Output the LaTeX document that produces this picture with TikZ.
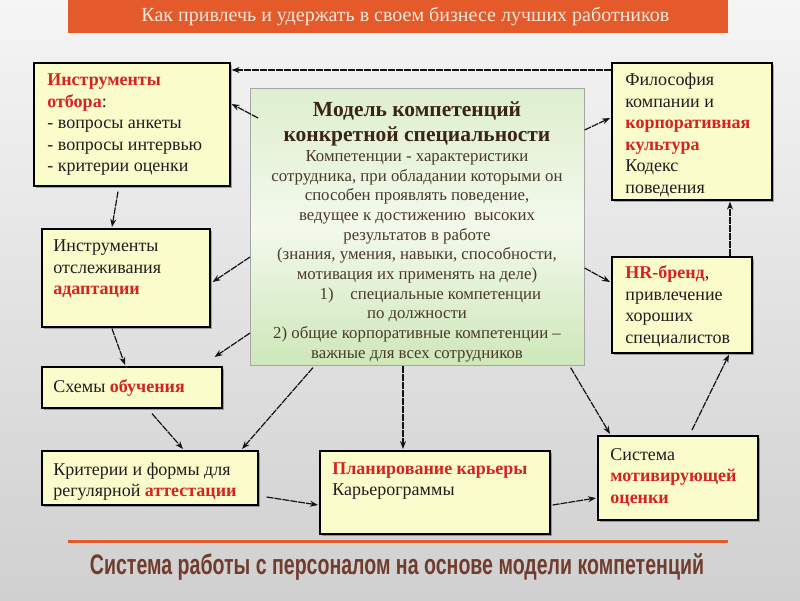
\documentclass[tikz,border=0pt]{standalone}
\usepackage{fontspec}
\usepackage{graphicx}
\setmainfont{Liberation Serif}
\newfontfamily\footfont{Liberation Sans}
\usetikzlibrary{arrows.meta,calc,shadows}

\definecolor{bgtop}{RGB}{245,245,245}
\definecolor{bgbottom}{RGB}{208,208,208}
\definecolor{barorange}{RGB}{228,90,42}
\definecolor{bartext}{RGB}{252,232,218}
\definecolor{boxyellow}{RGB}{250,252,204}
\definecolor{hlred}{RGB}{214,34,34}
\definecolor{textdark}{RGB}{30,30,30}
\definecolor{modeltop}{RGB}{222,239,206}
\definecolor{modelmid}{RGB}{243,249,236}
\definecolor{modelbottom}{RGB}{206,231,186}
\definecolor{modeltitle}{RGB}{58,36,20}
\definecolor{modeltext}{RGB}{72,58,40}
\definecolor{footbrown}{RGB}{112,60,46}
\definecolor{linkdark}{RGB}{20,20,20}

\newcommand{\redb}[1]{\textcolor{hlred}{\textbf{#1}}}

\tikzset{every picture/.style={line width=0.75pt}}
\tikzset{
  box/.style={draw=black, line width=1.6pt, fill=boxyellow, anchor=north west, inner sep=0pt,
    drop shadow={shadow xshift=2pt, shadow yshift=-2pt, opacity=.3, fill=black}},
  boxtext/.style={anchor=north west, inner sep=0pt, align=left, text=textdark,
    font=\fontsize{18}{21.5}\selectfont},
  link/.style={draw=linkdark, line width=1.2pt, dash pattern=on 7pt off 1pt,
    -{Stealth[length=8pt,width=6pt]}},
}

\begin{document}
\begin{tikzpicture}[x=1pt,y=1pt,yscale=-1,xscale=1]
%Background
\shade[top color=bgtop, bottom color=bgbottom] (0,0) rectangle (800,600);
\useasboundingbox (0,0) rectangle (800,600);

%Shape: Title bar
\node[fill=barorange, anchor=north west, minimum width=660, minimum height=33, inner sep=0pt,
  text=bartext, font=\fontsize{20}{20}\selectfont] (title) at (68,0)
  {\hspace*{14pt}Как привлечь и удержать в своем бизнесе лучших работников};

%Shape: Boxes
\node[box, minimum width=196, minimum height=123] (otbor) at (33,62) {};
\node[box, minimum width=160, minimum height=137] (filos) at (611,62) {};
\node[anchor=north west, draw=gray!70, line width=0.6pt, inner sep=0pt,
  minimum width=334, minimum height=277,
  top color=modeltop, bottom color=modelbottom, middle color=modelmid] (model) at (250,88) {};
\node[box, minimum width=168, minimum height=98] (adapt) at (41,228) {};
\node[box, minimum width=140, minimum height=96] (hr) at (611,256) {};
\node[box, minimum width=180, minimum height=41] (obuch) at (41,366) {};
\node[box, minimum width=216, minimum height=54] (krit) at (41,450) {};
\node[box, minimum width=230, minimum height=83] (plan) at (319,450) {};
\node[box, minimum width=160, minimum height=84] (motiv) at (597,435) {};

% Text Node
\node[boxtext] (otbortext) at (47,73.5) {\redb{Инструменты}\\\redb{отбора}:\\- вопросы анкеты\\- вопросы интервью\\- критерии оценки};
% Text Node
\node[boxtext] (filostext) at (625,73) {Философия\\компании и\\\redb{корпоративная}\\\redb{культура}\\Кодекс\\поведения};
% Text Node
\node[boxtext] (adapttext) at (53,239.5) {Инструменты\\отслеживания\\\redb{адаптации}};
% Text Node
\node[boxtext] (hrtext) at (625,265.5) {\redb{HR-бренд},\\привлечение\\хороших\\специалистов};
% Text Node
\node[boxtext] (obuchtext) at (53,379.5) {Схемы \redb{обучения}};
% Text Node
\node[boxtext] (krittext) at (53,462.5) {Критерии и формы для\\регулярной \redb{аттестации}};
% Text Node
\node[boxtext] (plantext) at (332,462) {\redb{Планирование карьеры}\\Карьерограммы};
% Text Node
\node[boxtext] (motivtext) at (610,448) {Система\\\redb{мотивирующей}\\\redb{оценки}};
% Text Node
\node[anchor=north, inner sep=0pt, align=center, text=modeltitle,
  font=\fontsize{21.5}{25}\selectfont\bfseries] (modeltitle) at (417,101)
  {Модель компетенций\\конкретной специальности};
% Text Node
\node[anchor=north, inner sep=0pt, align=center, text=modeltext,
  font=\fontsize{16.8}{19.7}\selectfont] (modelbody) at (417,150)
  {Компетенции - характеристики\\
   сотрудника, при обладании которыми он\\
   способен проявлять поведение,\\
   ведущее к достижению\ \ высоких\\
   результатов в работе\\
   (знания, умения, навыки, способности,\\
   мотивация их применять на деле)\\
   \hspace*{1.6em}1)\hspace{1em}специальные компетенции\\
   по должности\\
   2) общие корпоративные компетенции –\\
   важные для всех сотрудников};

%Connectors
\draw[link] ($(filos.north west)+(0,8)$) -- ($(otbor.north east)+(1,8)$);
\draw[link] ($(model.north west)+(8,30)$) -- ($(otbor.north east)+(1,42)$);
\draw[link] ($(model.north east)+(0,42)$) -- ($(filos.north west)+(-1,56)$);
\draw[link] ($(otbor.south west)+(85,5)$) -- ($(adapt.north west)+(71,-1)$);
\draw[link] ($(model.north west)+(0,169)$) -- ($(adapt.north east)+(2,54)$);
\draw[link] ($(model.north west)+(0,245)$) -- ($(obuch.north east)+(-8,-9)$);
\draw[link] ($(adapt.south west)+(71,1)$) -- ($(obuch.north west)+(84,-1)$);
\draw[link] ($(obuch.south west)+(111,5)$) -- ($(krit.north west)+(142,-1)$);
\draw[link] ($(model.south west)+(63,2)$) -- ($(krit.north west)+(201,-1)$);
\draw[link] ($(model.south west)+(153,0)$) -- ($(plan.north west)+(84,-1)$);
\draw[link] ($(krit.north east)+(8,47)$) -- ($(plan.north west)+(-1,55)$);
\draw[link] ($(plan.north east)+(2,55)$) -- ($(motiv.north west)+(-1,63)$);
\draw[link] ($(model.south east)+(-14,2)$) -- ($(motiv.north west)+(13,-1)$);
\draw[link] ($(motiv.north west)+(95,-5)$) -- ($(hr.south west)+(118,1)$);
\draw[link] ($(model.north east)+(0,180)$) -- ($(hr.north west)+(-1,26)$);
\draw[link] ($(hr.north west)+(119,0)$) -- ($(filos.south west)+(119,1)$);

%Shape: Footer line
\draw[barorange, line width=3pt] (68,541) coordinate (lineleft) -- (728,541) coordinate (lineright);
% Text Node
\node[inner sep=0pt, text=footbrown] (footer) at (397,567)
  {\resizebox{614pt}{21pt}{\footfont\bfseries Система работы с персоналом на основе модели компетенций}};
\end{tikzpicture}
\end{document}
